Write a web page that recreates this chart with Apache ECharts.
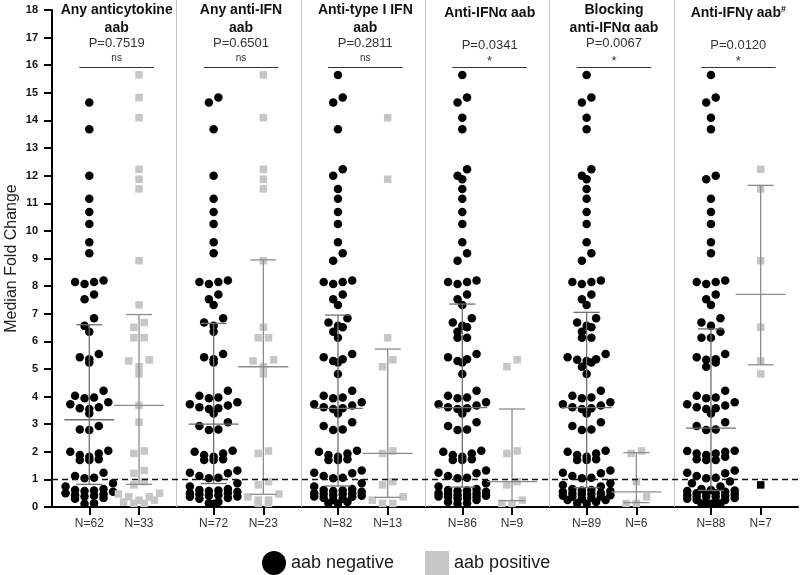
<!DOCTYPE html>
<html><head><meta charset="utf-8">
<script src="https://cdn.jsdelivr.net/npm/echarts@6/dist/echarts.min.js"></script>
<style>html,body{margin:0;padding:0;background:#fff}#c{width:800px;height:575px}</style>
</head><body><div id="c"></div>
<script>
// ---------------- DATA ----------------
const panelTitles = [['Any anticytokine','aab'], ['Any anti-IFN','aab'], ['Anti-type I IFN','aab'], ['Anti-IFNα aab'], ['Blocking','anti-IFNα aab'], ['Anti-IFNγ aab{s|#}']];
const pValues = ['P=0.7519','P=0.6501','P=0.2811','P=0.0341','P=0.0067','P=0.0120'];
const sigLabels = ['ns','ns','ns','*','*','*'];
const negLabels = ['N=62','N=72','N=82','N=86','N=89','N=88'];
const posLabels = ['N=33','N=23','N=13','N=9','N=6','N=7'];

const neg1 = [14.65,13.68,12.0,11.16,10.68,10.25,9.59,9.19,8.2,8.15,8.15,8.08,7.7,7.52,6.84,6.56,6.35,5.54,5.42,5.35,5.23,4.21,4.03,3.97,3.94,3.79,3.72,3.61,3.58,3.55,3.39,2.93,2.81,2.79,2.04,2.0,1.94,1.88,1.82,1.73,1.7,1.7,1.24,1.12,1.06,1.04,0.86,0.74,0.65,0.62,0.6,0.58,0.55,0.5,0.46,0.43,0.41,0.38,0.33,0.3,0.14,0.12];
const pos1 = [15.65,14.83,14.1,12.23,11.87,11.52,8.92,7.32,6.68,6.51,6.13,6.13,5.33,5.29,5.08,4.82,3.68,3.07,2.03,1.94,1.32,1.22,0.92,0.8,0.5,0.47,0.37,0.37,0.25,0.25,0.18,0.13,0.13];
const neg2 = [14.83,14.65,13.68,12.0,11.16,10.68,10.25,9.59,9.19,8.2,8.15,8.15,8.08,7.7,7.52,7.32,6.84,6.68,6.56,6.35,5.54,5.42,5.35,5.23,4.21,4.03,3.97,3.94,3.79,3.72,3.68,3.61,3.58,3.55,3.39,3.07,2.93,2.81,2.79,2.04,2.0,1.94,1.88,1.82,1.73,1.7,1.7,1.32,1.24,1.22,1.12,1.06,1.04,0.86,0.74,0.65,0.62,0.6,0.58,0.55,0.5,0.5,0.46,0.43,0.41,0.38,0.37,0.33,0.3,0.18,0.14,0.12];
const pos2 = [15.65,14.1,12.23,11.87,11.52,8.92,6.51,6.13,6.13,5.33,5.29,5.08,4.82,2.03,1.94,0.92,0.8,0.47,0.37,0.25,0.25,0.13,0.13];
const neg3 = [15.65,14.83,14.65,13.68,12.23,12.0,11.52,11.16,10.68,10.25,9.59,9.19,8.92,8.2,8.15,8.15,8.08,7.7,7.52,7.32,6.84,6.68,6.56,6.51,6.35,6.13,5.54,5.42,5.35,5.29,5.23,4.82,4.21,4.03,3.97,3.94,3.79,3.72,3.68,3.61,3.58,3.55,3.39,3.07,2.93,2.81,2.79,2.04,2.0,1.94,1.88,1.82,1.73,1.7,1.7,1.32,1.24,1.22,1.12,1.06,1.04,0.86,0.74,0.65,0.62,0.6,0.58,0.55,0.5,0.5,0.47,0.46,0.43,0.41,0.38,0.37,0.33,0.3,0.25,0.18,0.14,0.12];
const pos3 = [14.1,11.87,6.13,5.33,5.08,2.03,1.94,0.92,0.8,0.37,0.25,0.13,0.13];
const neg4 = [15.65,14.83,14.65,14.1,13.68,12.23,12.0,11.87,11.52,11.16,10.68,10.25,9.59,9.19,8.92,8.2,8.15,8.15,8.08,7.7,7.52,7.32,6.84,6.68,6.56,6.51,6.35,6.13,6.13,5.54,5.42,5.35,5.29,5.23,4.82,4.21,4.03,3.97,3.94,3.79,3.72,3.68,3.61,3.58,3.55,3.39,3.07,2.93,2.81,2.79,2.04,2.0,1.94,1.88,1.82,1.73,1.7,1.7,1.32,1.24,1.22,1.12,1.06,1.04,0.86,0.74,0.65,0.62,0.6,0.58,0.55,0.5,0.5,0.47,0.46,0.43,0.41,0.38,0.37,0.37,0.33,0.3,0.25,0.18,0.14,0.12];
const pos4 = [5.33,5.08,2.03,1.94,0.92,0.8,0.25,0.13,0.13];
const neg5 = [15.65,14.83,14.65,14.1,13.68,12.23,12.0,11.87,11.52,11.16,10.68,10.25,9.59,9.19,8.92,8.2,8.15,8.15,8.08,7.7,7.52,7.32,6.84,6.68,6.56,6.51,6.35,6.13,6.13,5.54,5.42,5.35,5.33,5.29,5.23,5.08,4.82,4.21,4.03,3.97,3.94,3.79,3.72,3.68,3.61,3.58,3.55,3.39,3.07,2.93,2.81,2.79,2.04,2.0,1.94,1.88,1.82,1.73,1.7,1.7,1.32,1.24,1.22,1.12,1.06,1.04,0.86,0.8,0.74,0.65,0.62,0.6,0.58,0.55,0.5,0.5,0.47,0.46,0.43,0.41,0.38,0.37,0.33,0.3,0.25,0.25,0.18,0.14,0.12];
const pos5 = [2.03,1.94,0.92,0.37,0.13,0.13];
const neg6 = [15.65,14.83,14.65,14.1,13.68,12.0,11.87,11.16,10.68,10.25,9.59,9.19,8.2,8.15,8.15,8.08,7.7,7.52,7.32,6.84,6.68,6.56,6.35,6.13,6.13,5.54,5.42,5.35,5.33,5.23,5.08,4.21,4.03,3.97,3.94,3.79,3.72,3.68,3.61,3.58,3.55,3.39,3.07,2.93,2.81,2.79,2.04,2.03,2.0,1.94,1.94,1.88,1.82,1.73,1.7,1.7,1.32,1.24,1.22,1.12,1.06,1.04,0.92,0.86,0.74,0.65,0.62,0.6,0.58,0.55,0.5,0.5,0.47,0.46,0.43,0.41,0.38,0.37,0.37,0.33,0.3,0.25,0.25,0.18,0.14,0.13,0.13,0.12];
const pos6 = [12.23,11.52,8.92,6.51,5.29,4.82];
const pos6Black = [0.8];

// medians and interquartile ranges as drawn
const negMedian = [3.16, 3.0, 3.57, 3.6, 3.6, 2.86];
const negQ1 = [0.82, 0.85, 0.76, 0.72, 0.7, 0.6];
const negQ3 = [6.6, 6.65, 6.95, 7.35, 7.05, 6.45];
const posMedian = [3.68, 5.08, 1.94, 0.92, 0.55, 7.7];
const posQ1 = [0.82, 0.46, 0.35, 0.23, 0.16, 5.15];
const posQ3 = [6.97, 8.95, 5.72, 3.55, 1.97, 11.65];

const negGroups = [neg1, neg2, neg3, neg4, neg5, neg6];
const posGroups = [pos1, pos2, pos3, pos4, pos5, pos6];

// ---------------- LAYOUT ----------------
const W = 800, H = 575;
const G = {left: 52, right: 2, top: 10, bottom: 68, outerBoundsMode: 'none', containLabel: false};
const gridW = W - G.left - G.right, gridH = H - G.top - G.bottom;
const YMAX = 18, NSLOTS = 30;
const pxPerY = gridH / YMAX, slotPx = gridW / NSLOTS;
const negSlot = i => 5 * i + 1, posSlot = i => 5 * i + 3;
const FONT = '"Liberation Sans", Arial, sans-serif';

// Prism-like row swarm
function swarm(values, slot, spacing, maxPerRow, rowPx) {
  const sorted = values.slice().sort((a, b) => b - a);
  const rows = []; let cur = [];
  for (const v of sorted) {
    if (cur.length && ((cur[0] - v) * pxPerY > rowPx || cur.length >= maxPerRow)) { rows.push(cur); cur = []; }
    cur.push(v);
  }
  if (cur.length) rows.push(cur);
  const out = [];
  rows.forEach(row => {
    const n = row.length;
    const pos = []; for (let k = 0; k < n; k++) pos.push((k - (n - 1) / 2) * spacing);
    const order = []; let l = 0, r = n - 1, t = true;
    while (l <= r) { if (t) order.push(r--); else order.push(l++); t = !t; }
    row.forEach((v, k) => out.push([slot + pos[order[k]] / slotPx, v]));
  });
  return out;
}

const negData = [], posData = [];
negGroups.forEach((g, i) => swarm(g, negSlot(i), 9.5, 6, 8.5).forEach(p => negData.push(p)));
posGroups.forEach((g, i) => swarm(g, posSlot(i), 10.3, 5, 8).forEach(p => posData.push(p)));
const blackData = swarm(pos6Black, posSlot(5), 10.3, 5, 8);

const slotLabels = [];
for (let k = 0; k < NSLOTS; k++) slotLabels.push('');
for (let i = 0; i < 6; i++) { slotLabels[negSlot(i)] = negLabels[i]; slotLabels[posSlot(i)] = posLabels[i]; }

const barData = [];
for (let i = 0; i < 6; i++) {
  barData.push([negSlot(i), negMedian[i], negQ1[i], negQ3[i], 0]);
  barData.push([posSlot(i), posMedian[i], posQ1[i], posQ3[i], 1]);
}
const annData = []; for (let i = 0; i < 6; i++) annData.push([5 * i + 2.1, YMAX]);

const chart = echarts.init(document.getElementById('c'), null, {renderer: 'canvas'});
chart.setOption({
  animation: false,
  backgroundColor: '#fff',
  grid: G,
  legend: {
    left: 257, top: 546, itemWidth: 24, itemHeight: 24, itemGap: 31,
    textStyle: {fontSize: 18, color: '#1a1a1a', fontFamily: FONT},
    data: [{name: 'aab negative', icon: 'circle'}, {name: 'aab positive', icon: 'rect'}]
  },
  xAxis: [
    {type: 'category', data: slotLabels, boundaryGap: true,
     axisLine: {onZero: false, lineStyle: {color: '#000', width: 2}},
     axisTick: {show: true, alignWithLabel: true, length: 8, interval: (idx) => slotLabels[idx] !== '', lineStyle: {color: '#000', width: 2}},
     axisLabel: {interval: 0, margin: 11, fontSize: 12, color: '#333', fontFamily: FONT},
     splitLine: {show: false}},
    {type: 'value', min: -0.5, max: NSLOTS - 0.5, show: false, axisLine: {onZero: false}, splitLine: {show: false}}
  ],
  yAxis: {type: 'value', min: 0, max: YMAX, interval: 1,
    name: 'Median Fold Change', nameLocation: 'middle', nameGap: 32, nameMoveOverlap: false,
    nameTextStyle: {fontSize: 16, color: '#222', fontFamily: FONT},
    axisLine: {show: true, onZero: false, lineStyle: {color: '#000', width: 2}},
    axisTick: {show: true, length: 8, lineStyle: {color: '#000', width: 2}},
    axisLabel: {fontSize: 11, fontWeight: 'bold', color: '#111', margin: 14, fontFamily: FONT},
    splitLine: {show: false}},
  series: [
    {type: 'custom', name: 'ann', xAxisIndex: 1, z: 1, silent: true, data: annData,
     renderItem: (params, api) => {
       const i = params.dataIndex;
       const cx = api.coord([5 * i + 2.1, YMAX])[0];
       const top = api.coord([0, YMAX])[1];
       const y0 = api.coord([0, 0])[1];
       const ch = [];
       const t = panelTitles[i];
       const tStyle = (txt, y) => ({type: 'text', x: cx, y: y, style: {text: txt, fill: '#111', font: 'bold 14px ' + FONT, align: 'center', verticalAlign: 'middle',
         rich: {s: {font: 'bold 9px ' + FONT, fill: '#111', verticalAlign: 'top', lineHeight: 15}}}});
       if (t.length === 2) { ch.push(tStyle(t[0], top)); ch.push(tStyle(t[1], top + 18)); }
       else ch.push(tStyle(t[0], top + 3));
       ch.push({type: 'text', x: cx, y: top + (t.length === 2 ? 33 : 35), style: {text: pValues[i], fill: '#333', font: '13px ' + FONT, align: 'center', verticalAlign: 'middle'}});
       const sig = sigLabels[i];
       ch.push({type: 'text', x: cx, y: top + (sig === '*' ? 51 : 48), style: {text: sig, fill: '#333', font: (sig === '*' ? '13px ' : '10px ') + FONT, align: 'center', verticalAlign: 'middle'}});
       const bx1 = api.coord([5 * i + 0.6, YMAX])[0], bx2 = api.coord([5 * i + 3.6, YMAX])[0];
       ch.push({type: 'line', shape: {x1: bx1, y1: top + 57.5, x2: bx2, y2: top + 57.5}, style: {stroke: '#333', lineWidth: 1}});
       if (i > 0) {
         const sx = Math.round(api.coord([5 * i - 0.5, 0])[0]) + 0.5;
         ch.push({type: 'line', shape: {x1: sx, y1: 0, x2: sx, y2: y0}, style: {stroke: '#c4c4c4', lineWidth: 1}});
       }
       return {type: 'group', children: ch};
     }},
    {type: 'scatter', name: 'aab negative', xAxisIndex: 1, symbol: 'circle', symbolSize: 8.5, z: 3,
     itemStyle: {color: '#000', opacity: 1}, data: negData},
    {type: 'scatter', name: 'aab positive', xAxisIndex: 1, symbol: 'rect', symbolSize: 7.5, z: 3,
     itemStyle: {color: '#c6c6c6', opacity: 1}, data: posData},
    {type: 'scatter', name: 'posBlack', xAxisIndex: 1, symbol: 'rect', symbolSize: 7.5, z: 3,
     itemStyle: {color: '#000', opacity: 1}, data: blackData},
    {type: 'custom', name: 'bars', xAxisIndex: 1, z: 4, silent: true, data: barData,
     renderItem: (params, api) => {
       const x = api.value(0), med = api.value(1), q1 = api.value(2), q3 = api.value(3), kind = api.value(4);
       const pm = api.coord([x, med]), p1 = api.coord([x, q1]), p3 = api.coord([x, q3]);
       const col = kind === 0 ? '#6e6e6e' : '#8c8c8c';
       const st = {stroke: col, lineWidth: 1.3};
       const cw = 13, mw = 25;
       return {type: 'group', children: [
         {type: 'line', shape: {x1: pm[0], y1: p3[1], x2: pm[0], y2: p1[1]}, style: st},
         {type: 'line', shape: {x1: pm[0] - cw, y1: p3[1], x2: pm[0] + cw, y2: p3[1]}, style: st},
         {type: 'line', shape: {x1: pm[0] - cw, y1: p1[1], x2: pm[0] + cw, y2: p1[1]}, style: st},
         {type: 'line', shape: {x1: pm[0] - mw, y1: pm[1], x2: pm[0] + mw, y2: pm[1]}, style: st}
       ]};
     }},
    {type: 'custom', name: 'refline', xAxisIndex: 1, z: 5, silent: true, data: [[-0.5, 1]],
     renderItem: (params, api) => {
       const p = api.coord([api.value(0), api.value(1)]);
       return {type: 'line', shape: {x1: p[0], y1: p[1], x2: api.getWidth(), y2: p[1]}, style: {stroke: '#111', lineWidth: 1.5, lineDash: [6, 4]}};
     }}
  ]
});
</script></body></html>
